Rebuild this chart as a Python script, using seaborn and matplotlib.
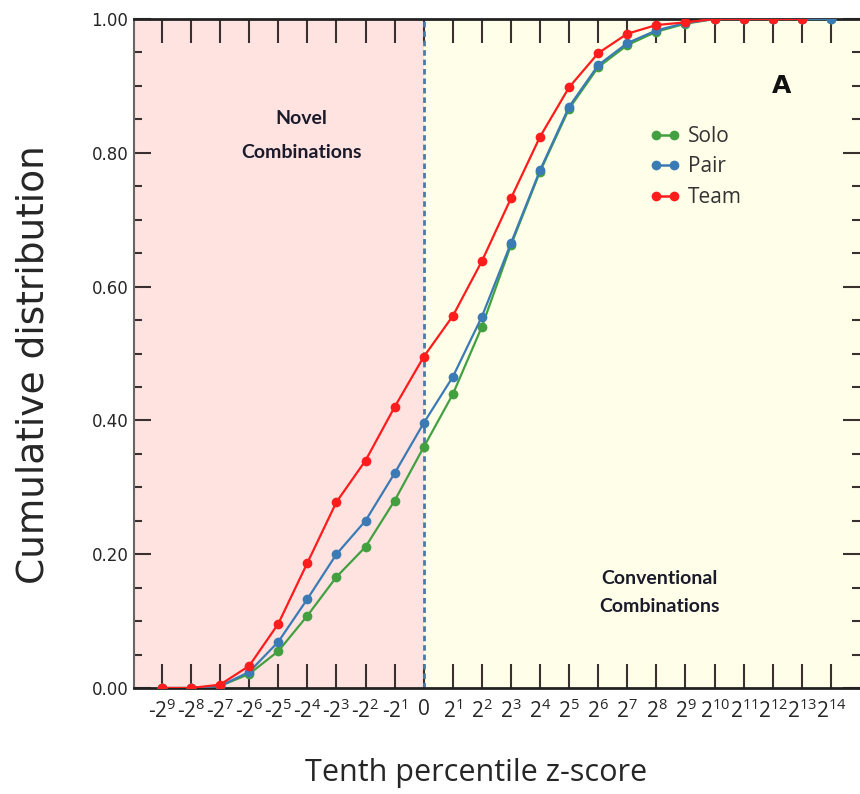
import matplotlib
matplotlib.use("Agg")
import matplotlib.pyplot as plt
from matplotlib.lines import Line2D
from matplotlib.ticker import MultipleLocator, FuncFormatter
import pandas as pd
import seaborn as sns

# x categories: signed powers of two of the tenth-percentile z-score
tick_labels = ["-$2^{%d}$" % k for k in range(9, 0, -1)] + ["0"] + \
              ["$2^{%d}$" % k for k in range(1, 15)]

solo = [0.0, 0.0, 0.003, 0.021, 0.055, 0.108, 0.166, 0.211, 0.280, 0.360,
        0.439, 0.540, 0.662, 0.772, 0.866, 0.928, 0.961, 0.981, 0.993,
        1.0, 1.0, 1.0, 1.0, 1.0]
pair = [0.0, 0.0, 0.003, 0.024, 0.069, 0.133, 0.200, 0.250, 0.321, 0.396,
        0.465, 0.555, 0.665, 0.774, 0.869, 0.931, 0.964, 0.983, 0.994,
        1.0, 1.0, 1.0, 1.0, 1.0]
team = [0.0, 0.0, 0.005, 0.033, 0.096, 0.187, 0.278, 0.340, 0.420, 0.495,
        0.556, 0.638, 0.732, 0.824, 0.898, 0.949, 0.978, 0.991, 0.995,
        1.0, 1.0, 1.0, 1.0]

groups = ["Solo", "Pair", "Team"]
colors = {"Solo": "#42a040", "Pair": "#3b7bb5", "Team": "#ff1c1c"}

rows = []
for name, vals in zip(groups, [solo, pair, team]):
    for i, v in enumerate(vals):
        rows.append({"pos": i, "value": v, "group": name})
df = pd.DataFrame(rows)

sns.set_style("ticks")
plt.rcParams["font.family"] = ["DejaVu Sans"]
plt.rcParams["mathtext.fontset"] = "custom"
plt.rcParams["mathtext.rm"] = "Open Sans"
plt.rcParams["mathtext.it"] = "Open Sans:italic"
plt.rcParams["mathtext.bf"] = "Open Sans:bold"

fig = plt.figure(figsize=(8.6, 7.94), dpi=100)
ax = fig.add_axes([134 / 860, 106 / 794, 726 / 860, 669 / 794])

zero_pos = tick_labels.index("0")
xmin, xmax = -0.96, 24.0
ax.axvspan(xmin, zero_pos, color="#fee3e1", zorder=0, lw=0)
ax.axvspan(zero_pos, xmax, color="#fefee9", zorder=0, lw=0)
ax.axvline(zero_pos, color="#4a7aa8", lw=2, ls=(0, (2, 1.4)), zorder=1)

sns.lineplot(data=df, x="pos", y="value", hue="group", hue_order=groups,
             palette=colors, marker="o", markersize=7, markeredgewidth=0,
             linewidth=1.6, legend=False, ax=ax, zorder=3)

ax.set_xlim(xmin, xmax)
ax.set_ylim(0, 1.0)
ax.set_xticks(range(len(tick_labels)))
ax.set_xticklabels(tick_labels, fontsize=15, family="Open Sans")
ax.yaxis.set_major_locator(MultipleLocator(0.2))
ax.yaxis.set_minor_locator(MultipleLocator(0.05))
ax.yaxis.set_major_formatter(FuncFormatter(lambda v, p: "%.2f" % abs(v)))
ax.tick_params(axis="y", labelsize=12)

ax.tick_params(axis="x", which="major", direction="in", length=17, width=1.5,
               top=True, bottom=True, color="#3a3030", pad=8)
ax.tick_params(axis="y", which="major", direction="in", length=12, width=1.5,
               left=True, right=True, color="#3a3030", pad=4)
ax.tick_params(axis="y", which="minor", direction="in", length=6, width=1.5,
               left=True, right=True, color="#3a3030")
ax.tick_params(axis="x", which="minor", bottom=False, top=False)

for side in ["top", "bottom"]:
    ax.spines[side].set_color("#222222")
    ax.spines[side].set_linewidth(2)
ax.spines["left"].set_color("#666666")
ax.spines["left"].set_linewidth(1.5)
ax.spines["right"].set_visible(False)

ax.set_xlabel("Tenth percentile z-score", fontsize=22, family="Open Sans")
ax.xaxis.set_label_coords(0.471, -0.104)
ax.set_ylabel("Cumulative distribution", fontsize=27, family="DejaVu Sans")
ax.yaxis.set_label_coords(-0.114, 0.483)

ax.text(4.8, 0.826, "Novel\nCombinations", ha="center", va="center",
        fontsize=14, fontweight="bold", family="Lato", color="#1a1a2a",
        linespacing=2.2)
ax.text(17.1, 0.143, "Conventional\nCombinations", ha="center", va="center",
        fontsize=14, fontweight="bold", family="Lato", color="#1a1a2a",
        linespacing=1.75)
ax.text(21.3, 0.9, "A", ha="center", va="center", fontsize=18,
        fontweight="bold", family="DejaVu Sans", color="#111111")

handles = [Line2D([0], [0], color=colors[g], marker="o", markersize=7,
                  markeredgewidth=0, lw=1.8) for g in groups]
leg = ax.legend(handles, groups, loc="upper left",
                bbox_to_anchor=(0.684, 0.868), frameon=False, numpoints=2,
                handlelength=1.5, handletextpad=0.35, labelspacing=0.45,
                prop={"family": "Open Sans", "size": 15})
for t in leg.get_texts():
    t.set_color("#333333")

fig.savefig("out.png", dpi=100)
